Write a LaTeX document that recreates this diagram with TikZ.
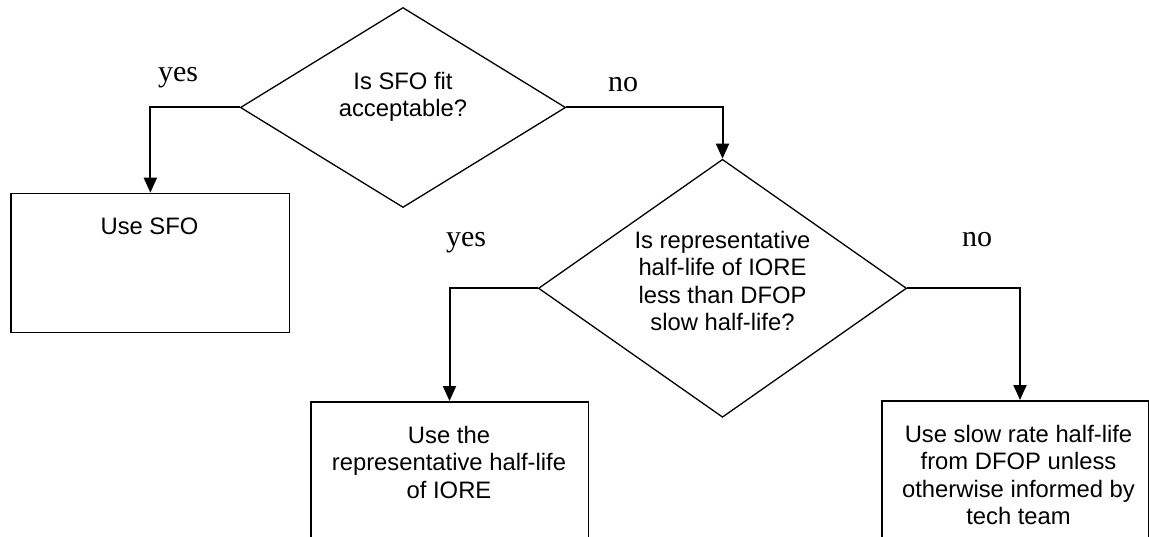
\documentclass[tikz,border=0pt]{standalone}
\usepackage{fontspec}
\setmainfont{Liberation Sans}
\newfontfamily\labelfont{Liberation Serif}
\usetikzlibrary{shapes.geometric,arrows.meta}
\begin{document}
\begin{tikzpicture}[x=1pt,y=-1pt,
  dia/.style={draw, line width=1.3pt, shape=diamond, inner sep=0pt},
  boxnode/.style={draw, line width=1.8pt, rectangle, inner sep=0pt},
  txt/.style={font=\fontsize{23.8}{27.5}\selectfont, align=center, inner sep=0pt},
  lbl/.style={font=\labelfont\fontsize{30}{36}\selectfont, inner sep=0pt, anchor=base},
  arr/.style={line width=2pt, -{Triangle[length=15pt,width=13pt]}}]
\useasboundingbox (0,0) rectangle (1149,537);
\clip (0,0) rectangle (1149,537);
\fill[white] (0,0) rectangle (1149,537);
\node[dia, minimum width=325.3pt, minimum height=200pt] (d1) at (403,107.5) {};
\node[dia, minimum width=368.2pt, minimum height=258pt, aspect=1.43] (d2) at (722.5,288.3) {};
\node[boxnode, minimum width=278.3pt, minimum height=139pt, anchor=north west] (b1) at (10.3,192.7) {};
\node[boxnode, minimum width=277.8pt, minimum height=170pt, anchor=north west] (b2) at (309.7,401) {};
\node[boxnode, minimum width=267pt, minimum height=170pt, anchor=north west] (b3) at (881,400) {};
\node[txt] (t1) at (403,97) {Is SFO fit\\acceptable?};
\node[txt] (t2) at (722.5,281) {Is representative\\half-life of IORE\\less than DFOP\\slow half-life?};
\node[txt, anchor=base] (t3) at (149.5,235) {Use SFO};
\node[txt] (t4) at (449,462) {Use the\\representative half-life\\of IORE};
\node[txt] (t5) at (1018.5,475) {Use slow rate half-life\\from DFOP unless\\otherwise informed by\\tech team};
\node[lbl] (y1) at (178,82) {yes};
\node[lbl] (n1) at (623,92) {no};
\node[lbl] (y2) at (466,247) {yes};
\node[lbl] (n2) at (977,247) {no};
\coordinate (c3) at (1020,400);
\draw[arr] (d1.west) -| (b1.north);
\draw[arr] (d1.east) -| (d2.north);
\draw[arr] (d2.west) -| (b2.north);
\draw[arr] (d2.east) -| (c3);
\end{tikzpicture}
\end{document}
